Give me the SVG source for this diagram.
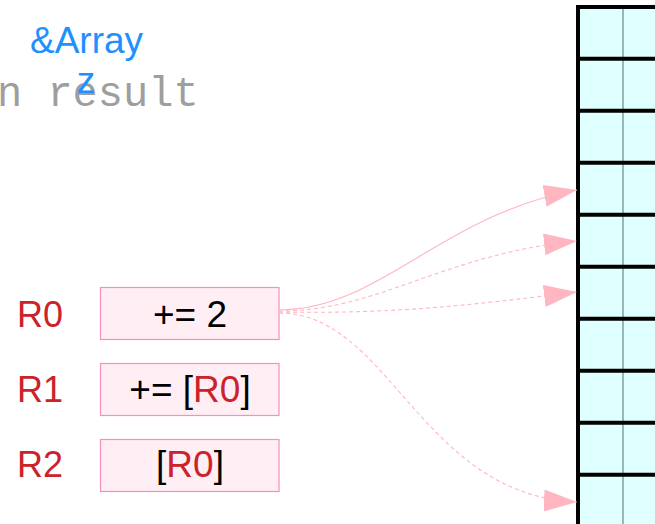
<svg xmlns="http://www.w3.org/2000/svg" width="655" height="524" viewBox="0 0 655 524">
  <style>
    .sans { font-family: "Liberation Sans", Arial, sans-serif; }
    .reg { font-size: 36px; fill: #cc2229; }
    .op { font-size: 37px; fill: #000000; text-anchor: middle; }
    .red { fill: #cc2229; }
    .box { fill: #ffeef4; stroke: #f48fc0; stroke-width: 1.2; }
    .cell { fill: #e0ffff; }
    .rowline { stroke: #000000; stroke-width: 4; }
    .colline { stroke: #6a8888; stroke-width: 1.2; }
    .link { fill: none; stroke: #ffb6c1; stroke-width: 1.1; }
    .dash { stroke-dasharray: 4 3; }
  </style>
  <defs>
    <marker id="head" markerUnits="userSpaceOnUse" markerWidth="34" markerHeight="24" viewBox="0 0 34 24" refX="33" refY="12" orient="auto">
      <path d="M0,1 L33,12 L0,23 Z" fill="#ffb6c1"/>
    </marker>
  </defs>

  <rect width="655" height="524" fill="#ffffff"/>

  <!-- background code fragment -->
  <text x="-3" y="106" font-family="'Liberation Mono', 'Courier New', monospace" font-size="42" fill="#9e9e9e">n result</text>

  <!-- array label -->
  <g id="array-label" class="sans" font-size="37" fill="#1e90ff" text-anchor="middle">
    <text x="86.5" y="53">&amp;Array</text>
    <text x="86" y="93">z</text>
  </g>

  <!-- memory array -->
  <g id="array">
    <rect x="577" y="7" width="90" height="530" class="cell"/>
    <line x1="623" y1="7" x2="623" y2="530" class="colline"/>
    <g class="rowline">
      <line x1="576" y1="7" x2="660" y2="7"/>
      <line x1="576" y1="58.7" x2="660" y2="58.7"/>
      <line x1="576" y1="110.7" x2="660" y2="110.7"/>
      <line x1="576" y1="162.7" x2="660" y2="162.7"/>
      <line x1="576" y1="214.7" x2="660" y2="214.7"/>
      <line x1="576" y1="266.7" x2="660" y2="266.7"/>
      <line x1="576" y1="318.7" x2="660" y2="318.7"/>
      <line x1="576" y1="370.7" x2="660" y2="370.7"/>
      <line x1="576" y1="422.7" x2="660" y2="422.7"/>
      <line x1="576" y1="474.7" x2="660" y2="474.7"/>
      <line x1="578" y1="5" x2="578" y2="530"/>
    </g>
  </g>

  <!-- registers -->
  <g id="r0" class="sans">
    <text x="17" y="327" class="reg">R0</text>
    <rect x="100.5" y="287.5" width="178.5" height="52" class="box"/>
    <text x="190" y="327" class="op">+= 2</text>
  </g>
  <g id="r1" class="sans">
    <text x="17" y="402" class="reg">R1</text>
    <rect x="100.5" y="363.5" width="178.5" height="52" class="box"/>
    <text x="190" y="402" class="op">+= [<tspan class="red">R0</tspan>]</text>
  </g>
  <g id="r2" class="sans">
    <text x="17" y="477" class="reg">R2</text>
    <rect x="100.5" y="439.5" width="178.5" height="52" class="box"/>
    <text x="190" y="477" class="op">[<tspan class="red">R0</tspan>]</text>
  </g>

  <!-- connectors -->
  <g id="connectors">
    <path class="link" d="M279,310 C380,310 440,215 577,190" marker-end="url(#head)"/>
    <path class="link dash" d="M279,311 C380,311 440,255 577,241" marker-end="url(#head)"/>
    <path class="link dash" d="M279,312 C400,314 470,305 577,292" marker-end="url(#head)"/>
    <path class="link dash" d="M279,313 C390,313 420,495 577,502" marker-end="url(#head)"/>
  </g>
</svg>
